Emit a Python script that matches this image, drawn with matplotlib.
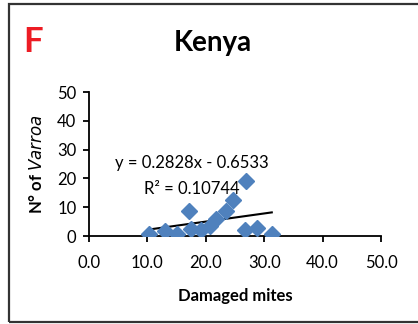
import matplotlib.pyplot as plt
from matplotlib.patches import Rectangle
import numpy as np

# damaged mites vs number of Varroa, Kenya
damaged = [10.3, 13.0, 15.0, 17.2, 17.4, 19.1, 20.8, 21.7, 23.5, 24.7, 26.9, 26.7, 28.8, 31.3]
varroa = [0.6, 1.7, 0.8, 8.7, 2.3, 2.0, 3.5, 5.8, 8.7, 12.5, 19.0, 2.0, 2.9, 0.8]

slope = 0.2828
intercept = -0.6533
r2 = 0.10744

xticks = [0, 10, 20, 30, 40, 50]
yticks = [0, 10, 20, 30, 40, 50]

plt.rcParams["font.family"] = ["Lato", "DejaVu Sans"]

fig = plt.figure(figsize=(4.18, 3.24), dpi=100)
ax = fig.add_axes([0.2129, 0.2716, 0.6986, 0.4444])

# panel frame
fig.patches.append(Rectangle((9 / 418, 2 / 324), 1.2, 318 / 324,
                             transform=fig.transFigure, fill=False,
                             edgecolor="#333333", linewidth=1.6))

ax.plot(damaged, varroa, linestyle="none", marker="D", markersize=8,
        color="#4F81BD", markeredgecolor="#4F81BD", zorder=3)

xs = np.array([min(damaged), max(damaged)])
ax.plot(xs, slope * xs + intercept, color="black", linewidth=1.5, zorder=2)

ax.set_xlim(0, 50)
ax.set_ylim(0, 50)
ax.set_xticks(xticks)
ax.set_xticklabels([f"{t:.1f}" for t in xticks])
ax.set_yticks(yticks)
ax.spines["top"].set_visible(False)
ax.spines["right"].set_visible(False)
for s in ("left", "bottom"):
    ax.spines[s].set_linewidth(1.3)
ax.tick_params(direction="out", length=4, width=1.3, labelsize=12, pad=5)
ax.tick_params(axis="x", pad=10)

ax.text(0.351, 0.507, f"y = {slope}x - {abs(intercept)}", transform=ax.transAxes,
        ha="center", va="center", fontsize=12)
ax.text(0.351, 0.326, f"R² = {r2}", transform=ax.transAxes,
        ha="center", va="center", fontsize=12)

ax.set_xlabel("Damaged mites", fontsize=12, fontweight="bold", labelpad=12)
ax.set_ylabel(r"N° of $\bf\it{Varroa}$", fontsize=12, fontweight="bold", labelpad=9)

fig.text(213 / 418, 1 - 43 / 324, "Kenya", ha="center", va="center",
         fontsize=20, fontweight="bold")
fig.text(33 / 418, 1 - 42 / 324, "F", ha="center", va="center",
         fontsize=25, fontweight="bold", color="#ED1C24")

fig.savefig("out.png", dpi=100)
